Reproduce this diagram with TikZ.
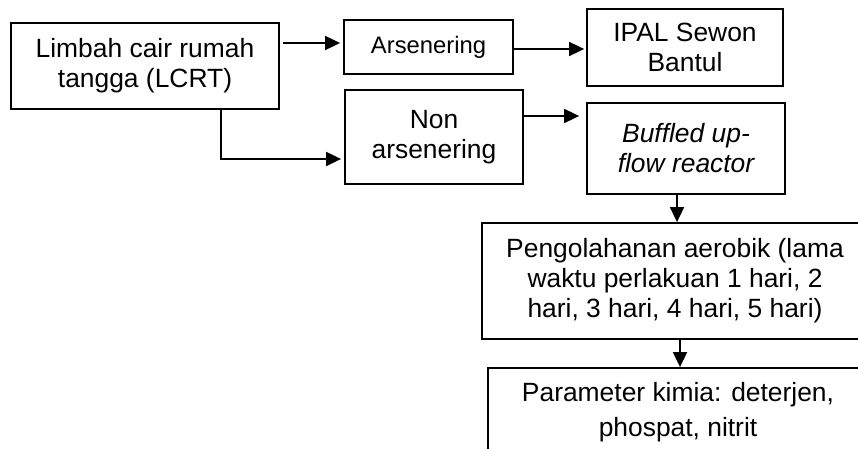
\documentclass[tikz,border=0pt]{standalone}
\usepackage{fontspec}
\setmainfont{Liberation Sans}
\usetikzlibrary{arrows.meta}

\tikzset{
  box/.style={draw, line width=1.8pt, align=center, inner sep=0pt,
    font=\fontsize{26.4}{30}\selectfont},
  arr/.style={line width=1.8pt, -{Triangle[length=15pt,width=14pt]}}
}

\begin{document}
\begin{tikzpicture}[x=1pt,y=1pt]
\useasboundingbox (0,0) rectangle (858,-449);
\clip (0,0) rectangle (858,-449);
% draw source box
\node[box, minimum width=268, minimum height=86] (lcrt) at (145,-66) {Limbah cair rumah\\tangga (LCRT)};
% draw the two branches
\node[box, minimum width=169, minimum height=54, font=\fontsize{23.8}{28}\selectfont] (arsen) at (428.5,-47) {Arsenering};
\node[box, minimum width=178, minimum height=94] (non) at (434,-137) {Non\\arsenering};
% draw right column
\node[box, minimum width=196, minimum height=77] (ipal) at (685,-47.5) {IPAL Sewon\\Bantul};
\node[box, minimum width=198, minimum height=91] (buffled) at (686,-148.5) {\itshape Buffled up-\\\itshape flow reactor};
% draw treatment and parameters
\node[box, minimum width=386, minimum height=116] (peng) at (675,-281) {Pengolahanan aerobik (lama\\waktu perlakuan 1 hari, 2\\hari, 3 hari, 4 hari, 5 hari)};
\node[box, minimum width=380, minimum height=88, font=\fontsize{26.4}{35}\selectfont] (param) at (678,-412) {Parameter kimia: deterjen,\\phospat, nitrit};
% draw arrows
\draw[arr, shorten >=3pt] ([shift={(3pt,4pt)}]arsen.west -| lcrt.east) -- ([yshift=4pt]arsen.west);
\draw[arr, shorten >=3pt] ([xshift=76pt]lcrt.south) |- ([yshift=-22pt]non.west);
\draw[arr, shorten >=2pt] ([yshift=-2pt]arsen.east) -- ([yshift=-2pt]arsen.east -| ipal.west);
\draw[arr, shorten >=7pt] ([yshift=21pt]non.east) -- ([yshift=21pt]non.east -| buffled.west);
\draw[arr] ([xshift=-9pt]buffled.south) -- ([xshift=-9pt]buffled.south |- peng.north);
\draw[arr] ([xshift=5pt]peng.south) -- ([xshift=5pt]peng.south |- param.north);
\end{tikzpicture}
\end{document}
